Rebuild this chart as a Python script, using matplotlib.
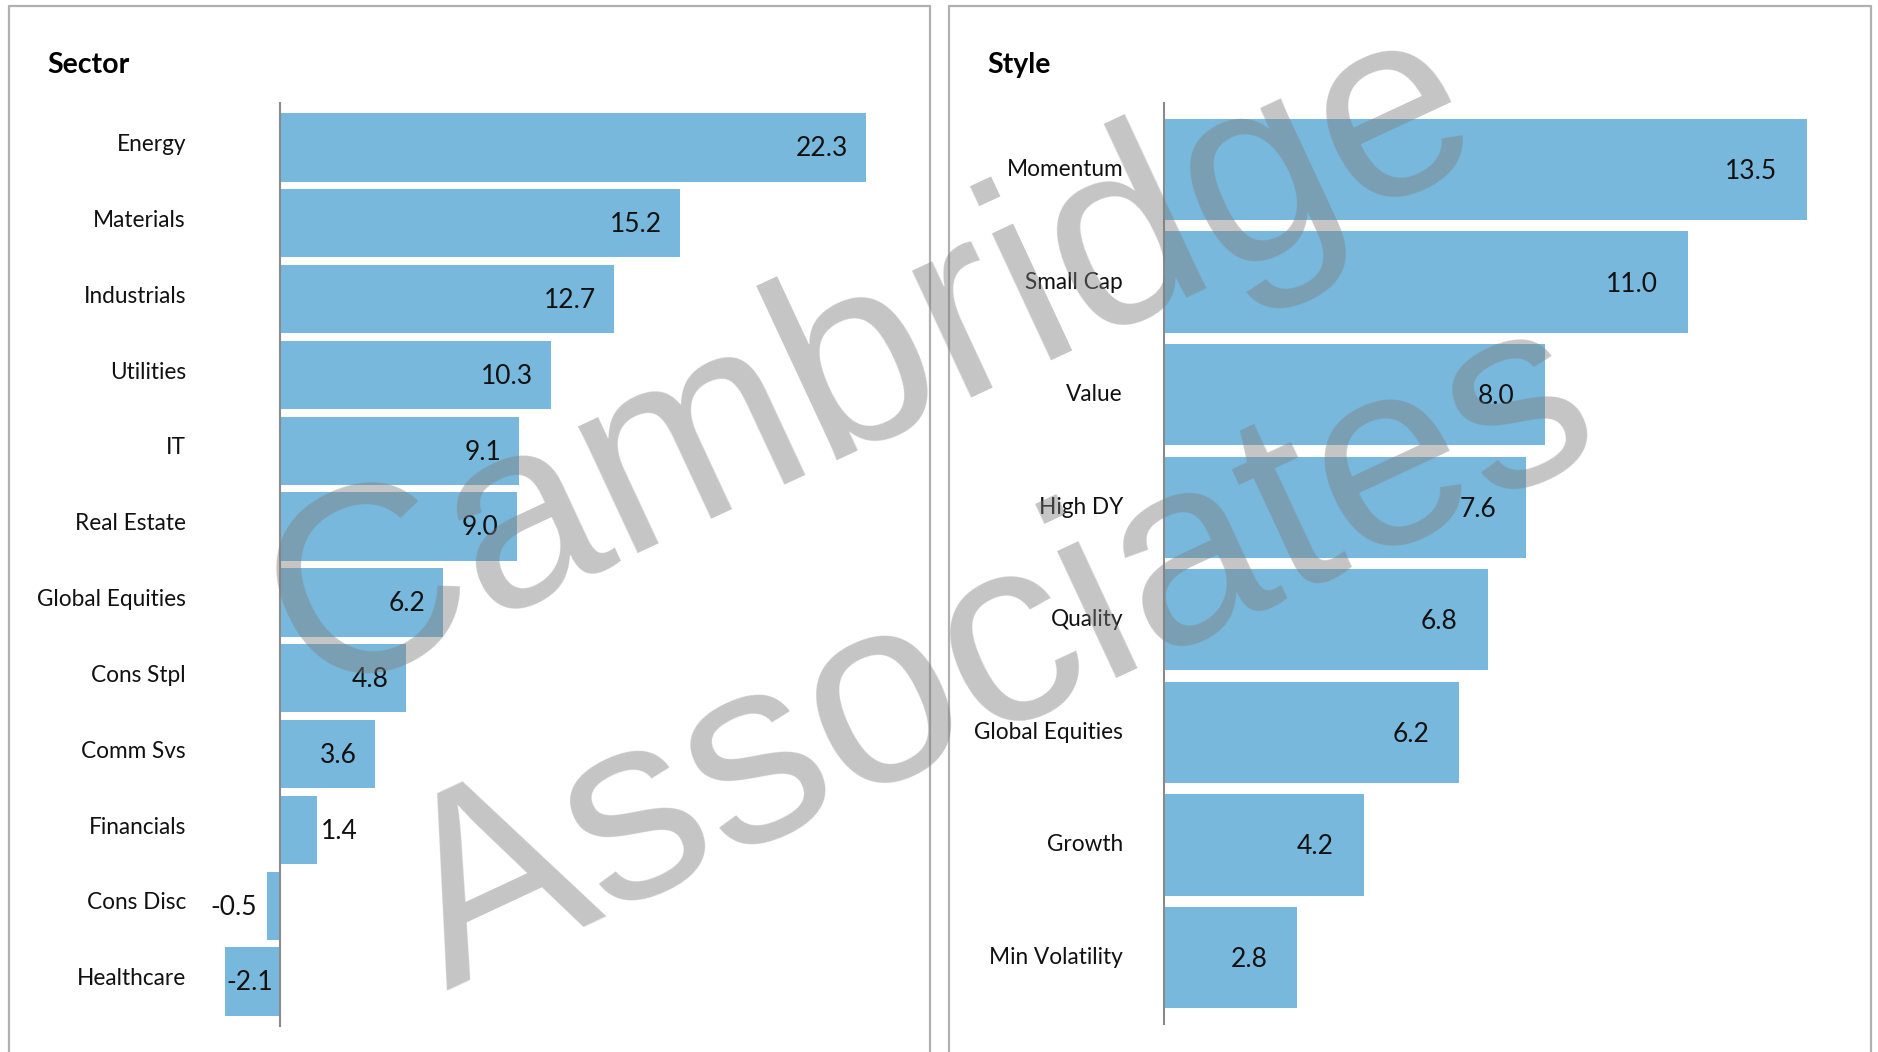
import matplotlib
matplotlib.use("Agg")
import matplotlib.pyplot as plt
from matplotlib.lines import Line2D

# data
sector_names = ["Energy", "Materials", "Industrials", "Utilities", "IT", "Real Estate",
                "Global Equities", "Cons Stpl", "Comm Svs", "Financials", "Cons Disc", "Healthcare"]
sector_vals = [22.3, 15.2, 12.7, 10.3, 9.1, 9.0, 6.2, 4.8, 3.6, 1.4, -0.5, -2.1]

style_names = ["Momentum", "Small Cap", "Value", "High DY", "Quality",
               "Global Equities", "Growth", "Min Volatility"]
style_vals = [13.5, 11.0, 8.0, 7.6, 6.8, 6.2, 4.2, 2.8]

W, H = 1878, 1052
BAR = "#78b8dc"
plt.rcParams['font.family'] = ['Lato', 'DejaVu Sans']

fig = plt.figure(figsize=(W / 100, H / 100), dpi=100)
fig.patch.set_facecolor("white")


def px_axes(left, right, top, bottom):
    return fig.add_axes([left / W, (H - bottom) / H, (right - left) / W, (bottom - top) / H])


def panel(ax, names, vals, xlim, lab_off, lab_dy, inside_off, val_dy):
    n = len(vals)
    y = list(range(n))
    ax.barh(y, vals, height=0.9, color=BAR, zorder=2)
    ax.set_xlim(*xlim)
    ax.set_ylim(n - 0.4, -0.6)
    ax.axis("off")
    ax.axvline(0, color="#8a8a8a", lw=1.5, zorder=3)
    for i, (nm, v) in enumerate(zip(names, vals)):
        ax.annotate(nm, xy=(0, i), xytext=(-lab_off, lab_dy), textcoords="offset points",
                    ha="right", va="center", fontsize=16.3, color="#111111")
        # value labels: inside if the bar is long enough, else outside
        if v >= 2:
            xy, dx, ha = (v, i), -inside_off, "right"
        elif v >= 0:
            xy, dx, ha = (v, i), 3, "left"
        elif v > -1:
            xy, dx, ha = (v, i), -7, "right"
        else:
            xy, dx, ha = (0, i), -5, "right"
        ax.annotate(f"{v:.1f}", xy=xy, xytext=(dx, val_dy), textcoords="offset points",
                    ha=ha, va="center", fontsize=19, color="#111111", zorder=4)


ax1 = px_axes(201.1, 911.2, 102, 1027)
panel(ax1, sector_names, sector_vals, (-3, 24), 67.7, 2, 13, -1)

ax2 = px_axes(1116.4, 1854.2, 102, 1025)
panel(ax2, style_names, style_vals, (-1, 14.5), 29.5, 0, 21.5, -1.5)

# panel titles
fig.text(47 / W, 1 - 73 / H, "Sector", fontsize=20.5, fontweight="bold", ha="left", va="baseline")
fig.text(987 / W, 1 - 73 / H, "Style", fontsize=20.5, fontweight="bold", ha="left", va="baseline")

# panel frames (open at the bottom)
for x0, x1 in [(8.5, 930), (949, 1870.5)]:
    fig.add_artist(Line2D([x0 / W, x0 / W, x1 / W, x1 / W], [-0.05, 1 - 6 / H, 1 - 6 / H, -0.05],
                          transform=fig.transFigure, color="#b0b0b0", lw=1.6))

# watermark
for txt, (x, y) in [("Cambridge", (313, 698)), ("Associates", (446, 990))]:
    fig.text(x / W, 1 - y / H, txt, fontsize=191, family="Liberation Sans", rotation=25,
             rotation_mode="anchor", ha="left", va="baseline", color="#7d7d7d", alpha=0.444,
             zorder=10)

fig.savefig("out.png", dpi=100)
